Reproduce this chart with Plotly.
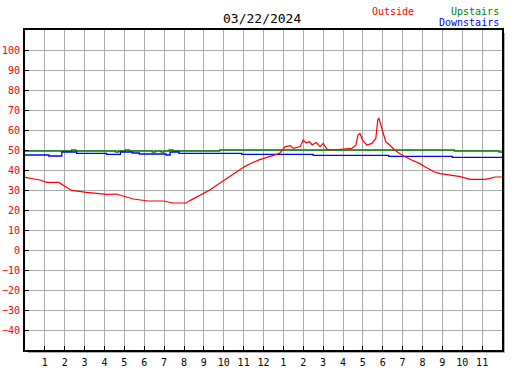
import plotly.graph_objects as go

# Outside temperature (hours since midnight, degrees)
out_h = [0.0, 0.35, 0.75, 1.1, 1.7, 2.1, 2.35, 3.1, 4.1, 4.6, 5.0, 5.45, 6.2, 6.95, 7.45, 8.1,
         8.3, 8.8, 9.3, 9.55, 10.05, 10.55, 11.05, 11.3, 11.55, 11.8, 12.3, 12.8, 13.1, 13.35,
         13.5, 13.85, 14.0, 14.15, 14.3, 14.45, 14.65, 14.85, 15.0, 15.2, 15.5, 15.85, 16.1,
         16.45, 16.65, 16.75, 16.85, 17.0, 17.2, 17.45, 17.65, 17.7, 17.75, 17.8, 17.9, 18.0,
         18.15, 18.35, 18.6, 18.85, 19.1, 19.45, 19.85, 20.1, 20.4, 20.6, 20.9, 21.4, 21.9,
         22.4, 22.9, 23.15, 23.4, 23.65, 24.0]
out_v = [36.3, 35.7, 35.0, 33.8, 33.8, 31.3, 29.8, 28.8, 27.8, 28.0, 26.7, 25.5, 24.5, 24.5, 23.5, 23.5,
         24.7, 27.3, 30.0, 31.7, 35.0, 38.7, 41.7, 43.0, 44.0, 45.2, 46.7, 48.3, 51.7, 52.2,
         50.8, 51.7, 55.0, 53.5, 54.2, 52.5, 53.7, 51.7, 53.3, 50.3, 50.0, 50.3, 50.8,
         50.8, 52.5, 57.5, 58.3, 54.7, 52.5, 53.3, 55.8, 61.7, 65.0, 66.0, 62.5, 58.3,
         54.2, 52.5, 50.0, 48.3, 46.7, 45.0, 43.3, 41.7, 40.0, 39.0, 38.2, 37.5, 36.7,
         35.3, 35.3, 35.3, 35.8, 36.5, 36.5]

# Upstairs temperature
up_h = [0.0, 2.35, 2.55, 4.55, 4.7, 5.05, 5.25, 6.4, 6.55, 6.85, 7.0, 7.25, 7.45, 9.8, 21.6, 23.85, 24.0]
up_v = [49.5, 50.0, 49.5, 49.0, 49.5, 50.0, 49.5, 49.0, 49.5, 49.0, 49.5, 50.0, 49.5, 50.0, 49.5, 49.0, 49.0]

# Downstairs temperature
dn_h = [0.0, 1.2, 1.85, 2.6, 4.1, 4.8, 5.4, 5.75, 7.1, 7.3, 7.75, 10.9, 14.5, 18.3, 21.5, 24.0]
dn_v = [47.5, 47.0, 49.0, 48.3, 47.8, 49.0, 48.5, 48.0, 47.5, 49.0, 48.3, 47.8, 47.3, 46.8, 46.3, 46.3]

x_tick_vals = list(range(1, 24))
x_tick_text = ["1", "2", "3", "4", "5", "6", "7", "8", "9", "10", "11", "12",
               "1", "2", "3", "4", "5", "6", "7", "8", "9", "10", "11"]
y_tick_vals = list(range(-40, 101, 10))

title_text = "03/22/2024"

MONO = "DejaVu Sans Mono"

fig = go.Figure()
fig.add_trace(go.Scatter(x=up_h, y=up_v, mode="lines", line=dict(color="#008000", width=1.3, shape="hv"),
                         name="Upstairs", hoverinfo="skip"))
fig.add_trace(go.Scatter(x=dn_h, y=dn_v, mode="lines", line=dict(color="#0000ff", width=1.3, shape="hv"),
                         name="Downstairs", hoverinfo="skip"))
fig.add_trace(go.Scatter(x=out_h, y=out_v, mode="lines", line=dict(color="#ff0000", width=1.2),
                         name="Outside", hoverinfo="skip"))

W, H = 527, 370
ml, mr, mt, mb = 25, 25, 30, 20
pw, ph = W - ml - mr, H - mt - mb

fig.update_layout(
    width=W, height=H,
    margin=dict(l=ml, r=mr, t=mt, b=mb, autoexpand=False),
    paper_bgcolor="white", plot_bgcolor="white",
    showlegend=False,
    xaxis=dict(range=[0, 24], tickvals=x_tick_vals, ticktext=x_tick_text, automargin=False,
               showgrid=True, gridcolor="#aaaaaa", gridwidth=1,
               ticks="inside", ticklen=4, tickcolor="black", ticklabelstandoff=2,
               showline=True, linecolor="black", linewidth=2, mirror=True,
               tickfont=dict(family=MONO, size=10, color="black"), zeroline=False, fixedrange=True),
    yaxis=dict(range=[-50, 110], tickvals=y_tick_vals, automargin=False,
               showgrid=True, gridcolor="#aaaaaa", gridwidth=1,
               ticks="inside", ticklen=4, tickcolor="black", ticklabelstandoff=1,
               showline=True, linecolor="black", linewidth=2, mirror=True,
               tickfont=dict(family=MONO, size=10, color="#ff0000"), zeroline=False, fixedrange=True),
)

# shadow on right and bottom of plot frame
fig.add_shape(type="rect", xref="paper", yref="paper", layer="below",
              x0=1 + 1 / pw, x1=1 + 3 / pw, y0=-3 / ph, y1=1 - 3 / ph,
              fillcolor="#b0b0b0", line=dict(width=0))
fig.add_shape(type="rect", xref="paper", yref="paper", layer="below",
              x0=3 / pw, x1=1 + 3 / pw, y0=-3 / ph, y1=-1 / ph,
              fillcolor="#b0b0b0", line=dict(width=0))

fig.add_annotation(text=title_text, xref="paper", yref="paper",
                   x=(262 - ml) / pw, y=1 + (mt - 19) / ph, xanchor="center", yanchor="middle",
                   showarrow=False, font=dict(family=MONO, size=13, color="black"))
fig.add_annotation(text="Outside", xref="paper", yref="paper",
                   x=(370 - ml) / pw, y=1 + (mt - 11) / ph, xanchor="left", yanchor="middle",
                   showarrow=False, font=dict(family=MONO, size=10, color="#ff0000"))
fig.add_annotation(text="Upstairs", xref="paper", yref="paper",
                   x=(501 - ml) / pw, y=1 + (mt - 11) / ph, xanchor="right", yanchor="middle",
                   showarrow=False, font=dict(family=MONO, size=10, color="#008000"))
fig.add_annotation(text="Downstairs", xref="paper", yref="paper",
                   x=(501 - ml) / pw, y=1 + (mt - 23) / ph, xanchor="right", yanchor="middle",
                   showarrow=False, font=dict(family=MONO, size=10, color="#0000ff"))

fig.write_html("out.html", config={"displayModeBar": False},
               post_script="document.body.style.margin='0px';document.body.style.overflow='hidden';")
